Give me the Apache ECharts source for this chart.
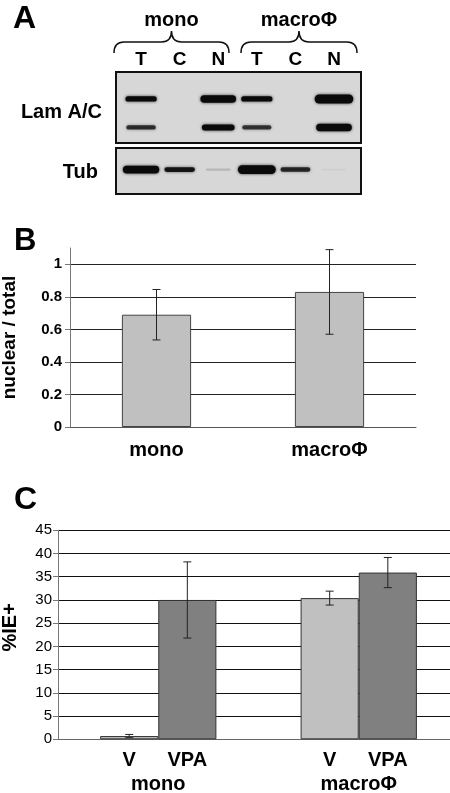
<!DOCTYPE html>
<html><head><meta charset="utf-8">
<script src="https://cdn.jsdelivr.net/npm/echarts@6/dist/echarts.min.js"></script>
<style>html,body{margin:0;padding:0;background:#fff}#c{width:450px;height:793px}</style>
</head><body><div id="c"></div>
<script>
// ---------- data ----------
const laneNames = ['T', 'C', 'N', 'T', 'C', 'N'];
const groupNames = ['mono', 'macroΦ'];
// relative band intensities per lane (0..1)
const lamA = [0.5, 0, 0.8, 0.5, 0, 1.0];
const lamC = [0.38, 0, 0.6, 0.36, 0, 0.8];
const tub = [0.85, 0.45, 0.07, 0.95, 0.4, 0.02];
// relative migration of each band within its blot (0 = top, 1 = bottom)
const migLamA = 0.38, migLamC = 0.78, migTub = 0.47;

const bCats = ['mono', 'macroΦ'];
const bMeans = [0.69, 0.83];
const bErr = [0.155, 0.26];

const cCats = ['mono', 'macroΦ'];
const cSeriesNames = ['V', 'VPA'];
const cV = [0.7, 30.4];
const cVErr = [0.35, 1.5];
const cVPA = [30.0, 35.9];
const cVPAErr = [8.2, 3.25];

// ---------- helpers ----------
const FF = '"Liberation Sans", Arial, sans-serif';
const braceSpans = [[114, 229], [241, 357]];
const lamData = [], tubData = [];
laneNames.forEach((n, i) => {
  lamData.push([i, migLamA, lamA[i]]);
  lamData.push([i, migLamC, lamC[i]]);
  tubData.push([i, migTub, tub[i]]);
});
function bandItem(params, api) {
  const v = api.value(2);
  if (v <= 0) return null;
  const c = api.coord([api.value(0), api.value(1)]);
  const sp = api.size([1, 0])[0];
  const w = sp * (0.62 + 0.38 * v);
  const h = 1.5 + 7.5 * v;
  const a = Math.min(1, 2 * v);
  return {
    type: 'rect',
    shape: { x: c[0] - w / 2, y: c[1] - h / 2, width: w, height: h, r: h / 2 },
    style: { fill: 'rgba(10,10,10,' + a + ')', shadowBlur: 3, shadowColor: 'rgba(10,10,10,' + (a * 0.8) + ')' }
  };
}
function laneLabelItem(params, api) {
  const c = api.coord([api.value(0), 0]);
  return {
    type: 'text', x: c[0], y: c[1] - 12,
    style: { text: laneNames[params.dataIndex], font: 'bold 19px ' + FF, align: 'center', verticalAlign: 'middle', fill: '#000' }
  };
}
function braceItem(params, api) {
  const g = api.value(0);
  const x1 = braceSpans[g][0], x2 = braceSpans[g][1], xc = (x1 + x2) / 2;
  const yb = 53, ym = 42, yp = 31;
  const d = 'M' + x1 + ' ' + yb + ' Q' + x1 + ' ' + ym + ' ' + (x1 + 10) + ' ' + ym +
    ' L' + (xc - 10) + ' ' + ym + ' Q' + xc + ' ' + ym + ' ' + xc + ' ' + yp +
    ' Q' + xc + ' ' + ym + ' ' + (xc + 10) + ' ' + ym +
    ' L' + (x2 - 10) + ' ' + ym + ' Q' + x2 + ' ' + ym + ' ' + x2 + ' ' + yb;
  return {
    type: 'group', children: [
      { type: 'path', shape: { pathData: d }, style: { stroke: '#111', lineWidth: 1.5, fill: null } },
      { type: 'text', x: xc, y: 20, style: { text: groupNames[g], font: 'bold 20px ' + FF, fill: '#000', align: 'center', verticalAlign: 'middle' } }
    ]
  };
}
function errItem(frac) {
  return function (params, api) {
    const hi = api.coord([api.value(0), api.value(2)]);
    const lo = api.coord([api.value(0), api.value(1)]);
    const off = frac ? api.value(3) * api.size([1, 0])[0] * frac / 2 : 0;
    const x = hi[0] + off, cw = 4;
    const st = { stroke: '#222', lineWidth: 1 };
    return {
      type: 'group', children: [
        { type: 'line', shape: { x1: x, y1: hi[1], x2: x, y2: lo[1] }, style: st },
        { type: 'line', shape: { x1: x - cw, y1: hi[1], x2: x + cw, y2: hi[1] }, style: st },
        { type: 'line', shape: { x1: x - cw, y1: lo[1], x2: x + cw, y2: lo[1] }, style: st }
      ]
    };
  };
}
const bErrData = bMeans.map((m, i) => [i, m - bErr[i], m + bErr[i]]);
const cErrData = cV.map((m, i) => [i, m - cVErr[i], m + cVErr[i], -1])
  .concat(cVPA.map((m, i) => [i, m - cVPAErr[i], m + cVPAErr[i], 1]));

const chart = echarts.init(document.getElementById('c'), null, { renderer: 'canvas' });
const hiddenVal = (gi, min, max, inv) => ({ type: 'value', gridIndex: gi, min: min, max: max, inverse: !!inv, show: false, splitLine: { show: false } });

chart.setOption({
  animation: false,
  backgroundColor: '#fff',
  textStyle: { fontFamily: FF },
  grid: [
    { left: 116, top: 72, width: 245, height: 71, show: true, backgroundColor: '#d7d7d7', borderColor: '#111', borderWidth: 2, outerBoundsMode: 'none', containLabel: false },
    { left: 116, top: 148, width: 245, height: 46, show: true, backgroundColor: '#d7d7d7', borderColor: '#111', borderWidth: 2, outerBoundsMode: 'none', containLabel: false },
    { left: 70, top: 248, width: 346, height: 179, outerBoundsMode: 'none', containLabel: false },
    { left: 58, top: 530.3, width: 401, height: 209, outerBoundsMode: 'none', containLabel: false }
  ],
  xAxis: [
    hiddenVal(0, -0.65, 5.7),
    hiddenVal(1, -0.65, 5.7),
    {
      type: 'category', gridIndex: 2, data: bCats,
      axisLine: { lineStyle: { color: '#555', width: 1 } }, axisTick: { show: false },
      axisLabel: { fontWeight: 'bold', fontSize: 20, color: '#000', margin: 13, fontFamily: FF }
    },
    {
      type: 'category', gridIndex: 3, data: cCats,
      axisLine: { lineStyle: { color: '#666', width: 1 } }, axisTick: { show: false },
      axisLabel: { fontWeight: 'bold', fontSize: 20, color: '#000', margin: 35, fontFamily: FF }
    }
  ],
  yAxis: [
    hiddenVal(0, 0, 1, true),
    hiddenVal(1, 0, 1, true),
    {
      type: 'value', gridIndex: 2, min: 0, max: 1.1, interval: 0.2,
      name: 'nuclear / total', nameLocation: 'middle', nameGap: 51, nameRotate: 90,
      nameTextStyle: { fontWeight: 'bold', fontSize: 19, color: '#000', fontFamily: FF },
      axisLine: { show: true, lineStyle: { color: '#777' } },
      axisTick: { show: true, length: 5, lineStyle: { color: '#777' } },
      axisLabel: { fontWeight: 'bold', fontSize: 15, color: '#000', margin: 8, showMaxLabel: false, fontFamily: FF },
      splitLine: { show: true, showMaxLine: false, lineStyle: { color: '#222', width: 1 } }
    },
    {
      type: 'value', gridIndex: 3, min: 0, max: 45, interval: 5,
      name: '%IE+', nameLocation: 'middle', nameGap: 38, nameRotate: 90,
      nameTextStyle: { fontWeight: 'bold', fontSize: 20, color: '#000', fontFamily: FF, padding: [0, 0, 0, 15] },
      axisLine: { show: true, lineStyle: { color: '#777' } },
      axisTick: { show: true, length: 5, lineStyle: { color: '#777' } },
      axisLabel: { fontSize: 15, color: '#000', margin: 6, fontFamily: FF },
      splitLine: { show: true, lineStyle: { color: '#111', width: 1 } }
    }
  ],
  series: [
    { type: 'custom', xAxisIndex: 0, yAxisIndex: 0, data: lamData, renderItem: bandItem, silent: true },
    { type: 'custom', xAxisIndex: 1, yAxisIndex: 1, data: tubData, renderItem: bandItem, silent: true },
    { type: 'custom', xAxisIndex: 0, yAxisIndex: 0, data: laneNames.map((n, i) => [i, 0]), renderItem: laneLabelItem, silent: true, clip: false },
    { type: 'custom', xAxisIndex: 0, yAxisIndex: 0, data: groupNames.map((n, i) => [i]), renderItem: braceItem, silent: true, clip: false },
    {
      type: 'bar', xAxisIndex: 2, yAxisIndex: 2, data: bMeans, barWidth: '40%',
      itemStyle: { color: '#c0c0c0', borderColor: '#444', borderWidth: 1 }
    },
    { type: 'custom', xAxisIndex: 2, yAxisIndex: 2, data: bErrData, renderItem: errItem(0), z: 5 },
    {
      type: 'bar', name: cSeriesNames[0], xAxisIndex: 3, yAxisIndex: 3, data: cV, barWidth: '29%', barGap: '0%',
      itemStyle: { color: '#c0c0c0', borderColor: '#333', borderWidth: 1 },
      label: { show: true, position: 'bottom', distance: 11, formatter: '{a}', fontWeight: 'bold', fontSize: 20, color: '#000', fontFamily: FF }
    },
    {
      type: 'bar', name: cSeriesNames[1], xAxisIndex: 3, yAxisIndex: 3, data: cVPA, barWidth: '29%', barGap: '0%',
      itemStyle: { color: '#808080', borderColor: '#333', borderWidth: 1 },
      label: { show: true, position: 'bottom', distance: 11, formatter: '{a}', fontWeight: 'bold', fontSize: 20, color: '#000', fontFamily: FF }
    },
    { type: 'custom', xAxisIndex: 3, yAxisIndex: 3, data: cErrData, renderItem: errItem(0.29), z: 5 }
  ],
  graphic: [
    { type: 'text', left: 13, top: 3, style: { text: 'A', font: 'bold 32px ' + FF, fill: '#000' } },
    { type: 'text', left: 14, top: 226, style: { text: 'B', font: 'bold 31px ' + FF, fill: '#000' } },
    { type: 'text', left: 14, top: 484, style: { text: 'C', font: 'bold 32px ' + FF, fill: '#000' } },
    { type: 'text', x: 102, y: 112, style: { text: 'Lam A/C', font: 'bold 20px ' + FF, fill: '#000', align: 'right', verticalAlign: 'middle' } },
    { type: 'text', x: 98, y: 172, style: { text: 'Tub', font: 'bold 20px ' + FF, fill: '#000', align: 'right', verticalAlign: 'middle' } }
  ]
});
</script>
</body></html>
